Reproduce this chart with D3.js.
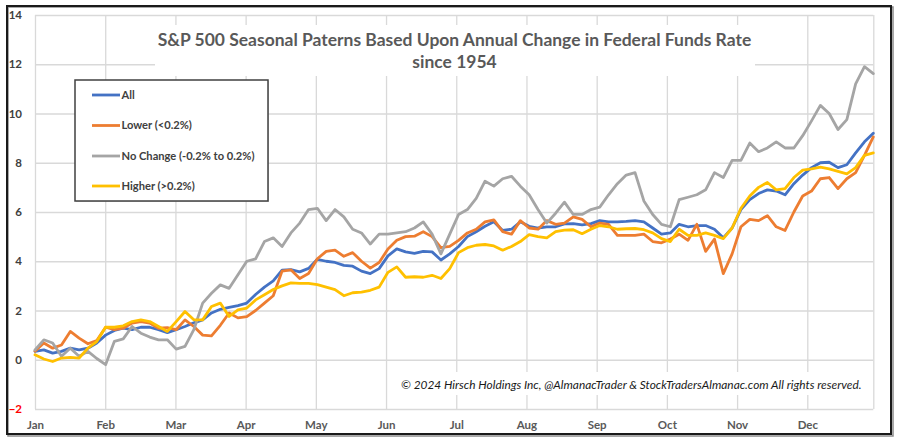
<!DOCTYPE html>
<html><head><meta charset="utf-8">
<script src="https://cdn.jsdelivr.net/npm/d3@7"></script>
<style>body{margin:0;background:#fff}svg{display:block}</style>
</head><body><svg id="c" width="900" height="442"></svg>
<script>
const months = ["Jan","Feb","Mar","Apr","May","Jun","Jul","Aug","Sep","Oct","Nov","Dec"];
const yTickValues = [-2,0,2,4,6,8,10,12,14];
const titleLines = ["S&P 500 Seasonal Paterns Based Upon Annual Change in Federal Funds Rate","since 1954"];
const copyright = "© 2024 Hirsch Holdings Inc, @AlmanacTrader & StockTradersAlmanac.com All rights reserved.";
const seriesNames = ["All","Lower (<0.2%)","No Change (-0.2% to 0.2%)","Higher (>0.2%)"];
const seriesColors = ["#4472C4","#ED7D31","#A5A5A5","#FFC000"];

const allValues = [0.34,0.4,0.27,0.34,0.47,0.4,0.47,0.68,1.0,1.19,1.28,1.22,1.32,1.32,1.22,1.1,1.22,1.35,1.5,1.62,
1.9,2.05,2.13,2.2,2.3,2.65,2.95,3.2,3.64,3.66,3.57,3.71,4.08,4.0,3.95,3.83,3.8,3.6,3.5,3.7,
4.22,4.5,4.38,4.32,4.4,4.38,4.05,4.3,4.6,5.0,5.2,5.42,5.6,5.25,5.3,5.6,5.42,5.35,5.4,5.4,
5.52,5.53,5.48,5.53,5.65,5.6,5.6,5.62,5.65,5.6,5.35,5.1,5.15,5.5,5.4,5.45,5.45,5.3,4.95,5.35,
6.1,6.5,6.75,6.9,6.85,6.7,7.15,7.5,7.8,8.0,8.02,7.8,7.92,8.4,8.85,9.2];

const lowerValues = [0.35,0.68,0.47,0.6,1.15,0.88,0.65,0.78,1.32,1.22,1.28,1.49,1.55,1.49,1.28,1.3,1.22,1.62,1.35,1.0,
0.97,1.4,1.9,1.7,1.75,2.0,2.3,2.6,3.6,3.65,3.3,3.5,4.1,4.4,4.45,4.2,4.35,4.0,3.72,3.95,
4.5,4.85,5.0,5.02,5.2,5.0,4.55,4.6,4.85,5.15,5.3,5.6,5.68,5.2,5.1,5.65,5.35,5.3,5.65,5.5,
5.55,5.8,5.7,5.4,5.55,5.5,5.05,5.05,5.05,5.1,4.8,4.75,4.9,5.1,4.85,5.5,4.4,4.9,3.5,4.3,
5.4,5.7,5.65,5.85,5.4,5.25,6.0,6.65,6.85,7.35,7.4,6.95,7.35,7.6,8.3,9.05];

const noChangeValues = [0.4,0.81,0.68,0.14,0.47,0.14,0.34,0.05,-0.2,0.75,0.85,1.35,1.08,0.92,0.81,0.81,0.43,0.54,1.22,2.3,
2.7,3.04,2.9,3.45,4.0,4.1,4.8,4.95,4.6,5.15,5.55,6.1,6.15,5.65,6.1,5.8,5.3,5.15,4.7,5.1,
5.1,5.15,5.2,5.35,5.6,5.1,4.3,5.1,5.9,6.1,6.55,7.25,7.05,7.35,7.45,7.05,6.7,6.1,5.55,5.95,
6.4,5.9,5.9,6.1,6.2,6.7,7.15,7.5,7.6,6.45,5.9,5.5,5.4,6.5,6.6,6.7,6.9,7.6,7.4,8.1,
8.1,8.8,8.45,8.6,8.85,8.6,8.6,9.1,9.7,10.33,10.0,9.35,9.75,11.2,11.9,11.62];

const higherValues = [0.2,0.03,-0.07,0.07,0.1,0.07,0.47,0.74,1.32,1.32,1.38,1.55,1.62,1.55,1.35,1.15,1.55,1.96,1.62,1.62,
2.16,2.3,1.76,2.03,2.1,2.43,2.64,2.85,3.0,3.12,3.1,3.1,3.05,2.95,2.85,2.6,2.72,2.75,2.82,2.95,
3.55,3.77,3.35,3.37,3.35,3.43,3.3,3.7,4.35,4.55,4.65,4.68,4.62,4.45,4.6,4.8,5.08,5.0,4.95,5.2,
5.26,5.28,5.12,5.3,5.45,5.4,5.3,5.32,5.33,5.28,5.15,4.92,4.8,5.3,5.05,5.05,5.15,5.05,4.92,5.35,
6.15,6.65,7.0,7.2,6.9,6.95,7.4,7.7,7.75,7.82,7.75,7.65,7.55,7.8,8.3,8.4];

const seriesValues = [allValues, lowerValues, noChangeValues, higherValues];

const FONT = "Lato, 'Noto Sans', sans-serif";
const svg = d3.select("#c");
const W = 900, H = 442;
const plot = {left: 35, right: 873.3, top: 15, bottom: 409};
const xMax = 11.94;
const x = d3.scaleLinear().domain([0, xMax]).range([plot.left, plot.right]);
const y = d3.scaleLinear().domain([-2, 14]).range([plot.bottom, plot.top]);

svg.append("rect").attr("width", W).attr("height", H).attr("fill", "#fff");

// Y axis + horizontal gridlines
const yAxis = svg.append("g").attr("transform", `translate(${plot.left},0)`)
  .call(d3.axisLeft(y).tickValues(yTickValues).tickSize(-(plot.right - plot.left)).tickPadding(13).tickFormat(d => d < 0 ? "\u2212" + Math.abs(d) : d));
yAxis.select(".domain").remove();
yAxis.selectAll(".tick line").attr("stroke", "#d9d9d9").attr("stroke-width", 1.3);
yAxis.selectAll(".tick text").attr("font-family", FONT).attr("font-size", 11.5).attr("font-weight", 700)
  .attr("fill", d => d < 0 ? "#ff0000" : "#404040");

// X axis + vertical gridlines
const xTicks = d3.range(12).concat([xMax]);
const xAxis = svg.append("g").attr("transform", `translate(0,${plot.bottom})`)
  .call(d3.axisBottom(x).tickValues(xTicks).tickSize(-(plot.bottom - plot.top)).tickPadding(12)
    .tickFormat((d, i) => i < 12 ? months[i] : ""));
xAxis.select(".domain").remove();
xAxis.selectAll(".tick line").attr("stroke", "#d9d9d9").attr("stroke-width", 1.3);
xAxis.selectAll(".tick text").attr("font-family", FONT).attr("font-size", 11.5).attr("font-weight", 700).attr("fill", "#595959");

// Series lines
const line = d3.line().x((d, i, arr) => x(i * xMax / (arr.length - 1))).y(d => y(d));
const linesG = svg.append("g");
seriesValues.forEach((vals, k) => {
  linesG.append("path").datum(vals).attr("fill", "none").attr("stroke", seriesColors[k])
    .attr("stroke-width", 2.8).attr("stroke-linejoin", "round").attr("stroke-linecap", "round")
    .attr("d", d => line(d.map(v => v), 0, d));
});
// fix: line with index
linesG.selectAll("path").attr("d", function(d){ const n=d.length; return d3.line().x((v,i)=>x(i*xMax/(n-1))).y(v=>y(v))(d); });

function fitText(sel, target) {
  let fs = +sel.attr("font-size");
  for (let k = 0; k < 6; k++) {
    const w = sel.node().getComputedTextLength();
    if (!w) break;
    fs = fs * target / w;
    sel.attr("font-size", fs);
  }
}

// Title box
svg.append("rect").attr("x", 155).attr("y", 25).attr("width", 600).attr("height", 51).attr("fill", "#fff");
const t1 = svg.append("text").attr("x", 454.5).attr("y", 45.7).attr("text-anchor", "middle")
  .attr("font-family", FONT).attr("font-weight", 700).attr("font-size", 17).attr("fill", "#595959").text(titleLines[0]);
fitText(t1, 593);
svg.append("text").attr("x", 454.5).attr("y", 67.7).attr("text-anchor", "middle")
  .attr("font-family", FONT).attr("font-weight", 700).attr("font-size", t1.attr("font-size")).attr("fill", "#595959").text(titleLines[1]);

// Legend
const lg = svg.append("g");
lg.append("rect").attr("x", 76).attr("y", 81).attr("width", 193).attr("height", 121).attr("fill", "#bfbfbf").attr("opacity", 0.6);
lg.append("rect").attr("x", 75).attr("y", 80).attr("width", 193).attr("height", 121)
  .attr("fill", "#fff").attr("stroke", "#404040").attr("stroke-width", 1.5);
const legY = [95, 125.5, 156, 186];
let legFont = 11.5;
seriesNames.forEach((name, k) => {
  lg.append("line").attr("x1", 92).attr("x2", 120).attr("y1", legY[k]).attr("y2", legY[k])
    .attr("stroke", seriesColors[k]).attr("stroke-width", 2.8);
  const t = lg.append("text").attr("x", 121.5).attr("y", legY[k]).attr("dy", "0.35em")
    .attr("font-family", FONT).attr("font-weight", 700).attr("font-size", legFont).attr("fill", "#404040").text(name);
  if (k === 2) { fitText(t, 133); legFont = +t.attr("font-size"); }
});
lg.selectAll("text").attr("font-size", legFont);

// Copyright
svg.append("rect").attr("x", 392).attr("y", 372).attr("width", 478).attr("height", 23).attr("fill", "#fff");
const ct = svg.append("text").attr("x", 401).attr("y", 389).attr("font-family", FONT).attr("font-style", "italic")
  .attr("font-size", 11.5).attr("fill", "#1a1a1a").text(copyright);
fitText(ct, 461);

// Outer frame
svg.append("rect").attr("x", 8).attr("y", 7).attr("width", 885).attr("height", 429).attr("fill", "none").attr("stroke", "#8c8c8c").attr("stroke-width", 1.5);
svg.append("rect").attr("x", 7).attr("y", 6).attr("width", 884).attr("height", 428).attr("fill", "none").attr("stroke", "#1a1a1a").attr("stroke-width", 2);
</script></body></html>
